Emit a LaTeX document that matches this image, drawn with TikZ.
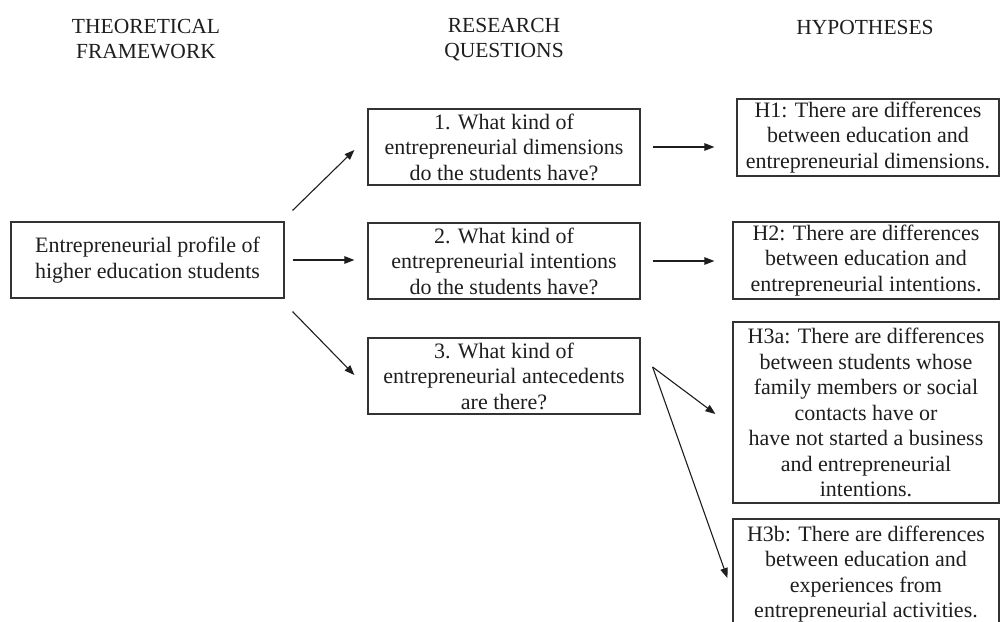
\documentclass[tikz,border=0pt]{standalone}
\usepackage{fontspec}
\setmainfont{Liberation Serif}
\usetikzlibrary{arrows.meta}
\definecolor{ink}{HTML}{1E1E1E}
\definecolor{frame}{HTML}{333333}
\begin{document}
\begin{tikzpicture}[x=1pt,y=-1pt,
  txt/.style={text=ink, align=center, inner sep=0pt,
    font=\fontsize{22}{25.5}\selectfont},
  box/.style={txt, draw=frame, line width=1.2pt},
  head/.style={txt, font=\fontsize{21.5}{25}\selectfont},
  arr/.style={draw=ink, line width=1.1pt, -{Triangle[length=10pt,width=7.5pt]}}]
\useasboundingbox (0,0) rectangle (1001,621);
\clip (0,0) rectangle (1001,621);
\fill[white] (0,0) rectangle (1001,621);

% column headings
\node[head] (hTF) at (146,39.5) {THEORETICAL\\FRAMEWORK};
\node[head] (hRQ) at (504,39.5) {RESEARCH\\QUESTIONS};
\node[head] (hHY) at (865,27) {HYPOTHESES};

% framework
\node[box, minimum width=273pt, minimum height=76pt] (prof) at (147.5,260)
  {Entrepreneurial profile of\\higher education students};

% research questions
\node[box, minimum width=272pt, minimum height=76pt] (q1) at (504,147)
  {1. What kind of\\entrepreneurial dimensions\\do the students have?};
\node[box, minimum width=272pt, minimum height=76pt] (q2) at (504,261)
  {2. What kind of\\entrepreneurial intentions\\do the students have?};
\node[box, minimum width=272pt, minimum height=76pt] (q3) at (504,376)
  {3. What kind of\\entrepreneurial antecedents\\are there?};

% hypotheses
\node[box, minimum width=262pt, minimum height=77pt] (h1) at (868,137.5)
  {H1: There are differences\\between education and\\entrepreneurial dimensions.};
\node[box, minimum width=266pt, minimum height=77pt] (h2) at (866,260.5)
  {H2: There are differences\\between education and\\entrepreneurial intentions.};
\node[box, minimum width=266pt, minimum height=181pt] (h3a) at (866,412.5)
  {H3a: There are differences\\between students whose\\family members or social\\contacts have or\\have not started a business\\and entrepreneurial\\intentions.};
\node[box, minimum width=266pt, minimum height=110pt] (h3b) at (866,574)
  {H3b: There are differences\\between education and\\experiences from\\entrepreneurial activities.};

% connectors
\draw[arr] ([shift={(8,-11)}]prof.north east) -- ([shift={(-13,3)}]q1.west);
\draw[arr, shorten <=8pt, shorten >=13pt] (prof.east) -- (prof.east -| q2.west);
\draw[arr] ([shift={(8,13)}]prof.south east) -- ([shift={(-13,-1)}]q3.west);
\draw[arr, shorten <=12pt, shorten >=22pt] (q1.east) -- (q1.east -| h1.west);
\draw[arr, shorten <=12pt, shorten >=18pt] (q2.east) -- (q2.east -| h2.west);
\draw[arr] ([shift={(12,-9)}]q3.east) -- ([shift={(-17,1.5)}]h3a.west);
\draw[arr] ([shift={(12,-9)}]q3.east) -- ([shift={(-5,4)}]h3b.west);
\end{tikzpicture}
\end{document}
